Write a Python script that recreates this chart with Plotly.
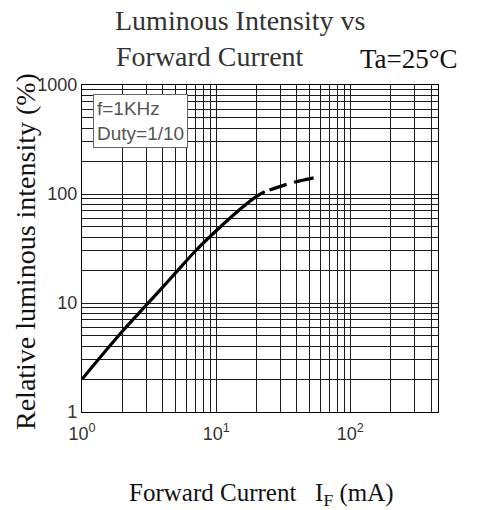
import numpy as np
import plotly.graph_objects as go

# Data
if_solid = [1, 2, 3, 4, 5, 7, 10, 15, 20, 23]
iv_solid = [2, 5.5, 9.5, 14, 19, 30, 46, 72, 95, 105]
if_dash = [23, 37, 60]
iv_dash = [105, 127, 145]

x_major = [1, 10, 100]
x_major_text = ["10<sup>0</sup>", "10<sup>1</sup>", "10<sup>2</sup>"]
x_minor = [m * 10 ** d for d in range(3) for m in range(2, 10) if m * 10 ** d <= 400]
y_major = [1, 10, 100, 1000]
y_major_text = ["1", "10", "100", "1000"]
y_minor = [m * 10 ** d for d in range(3) for m in range(2, 10)]

W, H = 496, 510
L, R, T, B = 82, 58, 85, 98
pw, ph = W - L - R, H - T - B

def px(x):
    return (x - L) / pw

def py(y):
    return (H - B - y) / ph

tick_font = dict(family="Liberation Sans Narrow, Liberation Sans", size=18, color="#333")
serif = "Liberation Serif, Times New Roman, serif"
gcol = "#1a1a1a"

fig = go.Figure()
fig.add_trace(go.Scatter(x=if_solid, y=iv_solid, mode="lines", line=dict(color="black", width=3.2, shape="spline"),
                         showlegend=False, hoverinfo="skip"))
fig.add_trace(go.Scatter(x=if_dash, y=iv_dash, mode="lines",
                         line=dict(color="black", width=3.2, shape="spline", dash="0px,5px,18px,8px,20px,200px"),
                         showlegend=False, hoverinfo="skip"))

fig.update_xaxes(type="log", range=[0, np.log10(450)], tickvals=x_major, ticktext=x_major_text,
                 showgrid=True, gridcolor=gcol, gridwidth=1, zeroline=False,
                 minor=dict(tickvals=x_minor, showgrid=True, gridcolor=gcol, gridwidth=1, ticks=""),
                 showline=True, linecolor="black", linewidth=1.2, mirror=True, ticks="",
                 ticklabelstandoff=5, tickfont=tick_font)
fig.update_yaxes(type="log", range=[0, 3], tickvals=y_major, ticktext=y_major_text,
                 showgrid=True, gridcolor=gcol, gridwidth=1, zeroline=False,
                 minor=dict(tickvals=y_minor, showgrid=True, gridcolor=gcol, gridwidth=1, ticks=""),
                 showline=True, linecolor="black", linewidth=1.2, mirror=True, ticks="",
                 tickfont=tick_font)

ann = []
ann.append(dict(text="Luminous Intensity vs", x=px(113), y=py(21), xref="paper", yref="paper",
                xanchor="left", yanchor="middle", showarrow=False, font=dict(family=serif, size=28, color="#333")))
ann.append(dict(text="Forward Current", x=px(114), y=py(56), xref="paper", yref="paper",
                xanchor="left", yanchor="middle", showarrow=False, font=dict(family=serif, size=28, color="#333")))
ann.append(dict(text="Ta=25°C", x=px(358), y=py(59), xref="paper", yref="paper",
                xanchor="left", yanchor="middle", showarrow=False, font=dict(family=serif, size=27, color="#111")))
ann.append(dict(text="Forward Current\u00a0\u00a0\u00a0I<sub>F</sub> (mA)", x=px(261), y=py(494), xref="paper", yref="paper",
                xanchor="center", yanchor="middle", showarrow=False, font=dict(family=serif, size=25, color="#111")))
ann.append(dict(text="Relative luminous intensity (%)", x=px(25), y=py(252), xref="paper", yref="paper",
                xanchor="center", yanchor="middle", textangle=-90, showarrow=False,
                font=dict(family=serif, size=28, color="#111")))
ann.append(dict(text="f=1KHz<br>Duty=1/10", x=px(93), y=py(94), xref="paper", yref="paper",
                xanchor="left", yanchor="top", align="left", showarrow=False,
                bgcolor="white", bordercolor="#666", borderwidth=1, borderpad=3,
                font=dict(family="Liberation Sans Narrow, Liberation Sans", size=19, color="#555")))

fig.update_layout(width=W, height=H, margin=dict(l=L, r=R, t=T, b=B),
                  paper_bgcolor="white", plot_bgcolor="white", annotations=ann)

fig.write_html("out.html")
